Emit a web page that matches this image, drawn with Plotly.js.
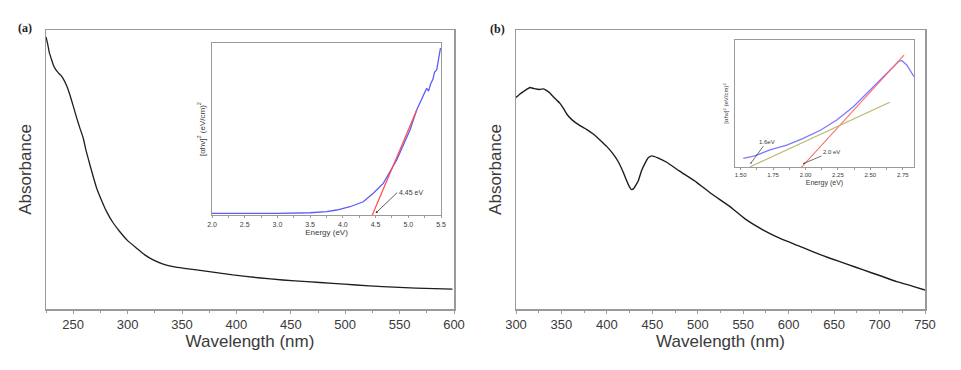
<!DOCTYPE html>
<html>
<head>
<meta charset="utf-8">
<script src="https://cdn.plot.ly/plotly-3.0.1.min.js"></script>
<style>html,body{margin:0;padding:0;background:#fff;}#chart{width:961px;height:370px;}</style>
</head>
<body>
<div id="chart"></div>
<script>
// Panel (a): main absorbance spectrum
const wlA  = [225, 226.5, 228, 230, 231.7, 234, 236, 238.5, 240.9, 244, 247, 250, 253.2, 256, 259.2, 262, 265.4, 268.5, 271.5, 276, 280.7, 286.5, 292.9, 300, 308.3, 315.5, 323.5, 332, 341.9, 352, 363.3, 380, 396.7, 420, 442.6, 465, 488.5, 510, 534.4, 565, 598.6];
const absA = [0.975, 0.95, 0.92, 0.895, 0.875, 0.858, 0.848, 0.838, 0.825, 0.8, 0.767, 0.728, 0.685, 0.65, 0.613, 0.565, 0.516, 0.473, 0.434, 0.39, 0.349, 0.31, 0.277, 0.245, 0.218, 0.195, 0.176, 0.162, 0.152, 0.146, 0.140, 0.131, 0.122, 0.112, 0.104, 0.098, 0.092, 0.086, 0.080, 0.075, 0.071];

// Panel (a) inset: Tauc plot
const eA    = [2.0, 2.5, 3.0, 3.5, 3.75, 3.906, 4.109, 4.312, 4.465, 4.618, 4.823, 5.026, 5.128, 5.281, 5.31, 5.34, 5.378, 5.40, 5.434, 5.492];
const tauA  = [0.009, 0.008, 0.009, 0.013, 0.02, 0.029, 0.048, 0.077, 0.126, 0.184, 0.320, 0.494, 0.610, 0.737, 0.72, 0.76, 0.79, 0.83, 0.843, 0.971];
const fitAx = [4.45, 5.13];
const fitAy = [0.0, 0.61];

// Panel (b): main absorbance spectrum
const wlB  = [300, 304, 308, 312, 315.4, 320, 326.4, 330, 333.8, 337, 341, 345, 348.4, 352, 356, 362, 370, 378, 385, 392, 400, 407, 413, 418, 422, 425, 427.3, 430, 434.6, 438, 441.9, 445.5, 449.3, 456, 465.8, 480, 498.8, 515, 535.4, 552, 572.1, 590, 608.8, 627, 645.5, 664, 682.1, 700, 718.9, 735, 750];
const absB = [0.758, 0.77, 0.779, 0.788, 0.794, 0.79, 0.787, 0.789, 0.783, 0.775, 0.761, 0.748, 0.737, 0.72, 0.698, 0.677, 0.658, 0.643, 0.627, 0.607, 0.582, 0.555, 0.525, 0.49, 0.458, 0.437, 0.428, 0.434, 0.46, 0.495, 0.522, 0.542, 0.549, 0.542, 0.526, 0.494, 0.454, 0.413, 0.367, 0.323, 0.283, 0.254, 0.229, 0.205, 0.182, 0.161, 0.140, 0.12, 0.098, 0.083, 0.068];

// Panel (b) inset: Tauc plot
const eB    = [1.52, 1.56, 1.6, 1.623, 1.726, 1.855, 1.983, 2.118, 2.241, 2.369, 2.498, 2.627, 2.716, 2.742, 2.781, 2.837];
const tauB  = [0.067, 0.075, 0.085, 0.094, 0.134, 0.173, 0.226, 0.291, 0.370, 0.475, 0.606, 0.738, 0.829, 0.839, 0.803, 0.711];
const fitB1x = [1.97, 2.76];
const fitB1y = [0.0, 0.88];
const fitB2x = [1.57, 2.65];
const fitB2y = [0.0, 0.51];

const ticksA = [250, 300, 350, 400, 450, 500, 550, 600];
const ticksB = [300, 350, 400, 450, 500, 550, 600, 650, 700, 750];
const ticksIA = [2.0, 2.5, 3.0, 3.5, 4.0, 4.5, 5.0, 5.5];
const ticksIB = [1.50, 1.75, 2.00, 2.25, 2.50, 2.75];

const W = 961, H = 370;
const px = v => v / W;
const py = v => 1 - v / H;

const frame = '#9a9a9a';
const txt = '#3a3a3a';
const sans = 'Liberation Sans, Arial, sans-serif';

const traces = [
  {x: wlA, y: absA, xaxis: 'x', yaxis: 'y', mode: 'lines', line: {color: '#1e1e1e', width: 1.3, shape: 'spline', smoothing: 0.3}},
  {x: eA, y: tauA, xaxis: 'x2', yaxis: 'y2', mode: 'lines', line: {color: '#5b5bff', width: 1.3}},
  {x: fitAx, y: fitAy, xaxis: 'x2', yaxis: 'y2', mode: 'lines', line: {color: '#ff4a4a', width: 1.2}},
  {x: wlB, y: absB, xaxis: 'x3', yaxis: 'y3', mode: 'lines', line: {color: '#1e1e1e', width: 1.4, shape: 'spline', smoothing: 0.3}},
  {x: eB, y: tauB, xaxis: 'x4', yaxis: 'y4', mode: 'lines', line: {color: '#7a7aff', width: 1.3}},
  {x: fitB1x, y: fitB1y, xaxis: 'x4', yaxis: 'y4', mode: 'lines', line: {color: '#ff6a6a', width: 1.1}},
  {x: fitB2x, y: fitB2y, xaxis: 'x4', yaxis: 'y4', mode: 'lines', line: {color: '#b8b86a', width: 1.1}}
];

function mainX(domain, range, tickvals) {
  return {
    domain: domain, range: range, tickvals: tickvals, ticktext: tickvals.map(String),
    showline: true, mirror: true, linecolor: frame, linewidth: 1.5,
    ticks: 'outside', ticklen: 3, tickcolor: frame, showgrid: false, zeroline: false,
    tickfont: {family: sans, size: 13, color: txt},
    minor: {dtick: 25, ticks: 'outside', ticklen: 2, tickcolor: frame},
    title: {text: 'Wavelength (nm)', font: {family: sans, size: 17, color: txt}, standoff: 4}
  };
}
function mainY(domain, anchor) {
  return {
    domain: domain, range: [0, 1], anchor: anchor,
    showline: true, mirror: true, linecolor: frame, linewidth: 1.5,
    showticklabels: false, ticks: '', showgrid: false, zeroline: false,
    title: {text: 'Absorbance', font: {family: sans, size: 17, color: txt}, standoff: 8}
  };
}
function insetX(domain, range, tickvals, anchor, fs, fmt, minorStep) {
  return {
    domain: domain, range: range, anchor: anchor, tickvals: tickvals, ticktext: tickvals.map(v => v.toFixed(fmt)),
    showline: true, mirror: true, linecolor: frame, linewidth: 1.2,
    ticks: 'outside', ticklen: 2, tickcolor: frame, showgrid: false, zeroline: false,
    tickfont: {family: sans, size: fs, color: txt},
    minor: {dtick: minorStep, ticks: 'outside', ticklen: 1.5, tickcolor: frame},
    title: {text: 'Energy (eV)', font: {family: sans, size: fs + 1, color: txt}, standoff: 2}
  };
}
function insetY(domain, anchor, fs, range) {
  return {
    domain: domain, range: range, anchor: anchor,
    showline: true, mirror: true, linecolor: frame, linewidth: 1.2,
    showticklabels: false, ticks: '', showgrid: false, zeroline: false,
    title: {text: '[αhν]<sup>2</sup> (eV/cm)<sup>2</sup>', font: {family: sans, size: fs, color: txt}, standoff: 4}
  };
}

const layout = {
  width: W, height: H,
  margin: {l: 0, r: 0, t: 0, b: 0},
  paper_bgcolor: '#fff', plot_bgcolor: '#fff',
  showlegend: false,
  xaxis: mainX([px(46), px(454)], [225, 600], ticksA),
  yaxis: mainY([py(309), py(30)], 'x'),
  xaxis2: insetX([px(212), px(441)], [2.0, 5.5], ticksIA, 'y2', 7, 1, 0.25),
  yaxis2: insetY([py(215), py(43)], 'x2', 8, [0, 1]),
  xaxis3: mainX([px(516), px(925)], [300, 750], ticksB),
  yaxis3: mainY([py(309), py(30)], 'x3'),
  xaxis4: insetX([px(735), px(914)], [1.456, 2.837], ticksIB, 'y4', 6, 2, 0.125),
  yaxis4: insetY([py(167), py(40)], 'x4', 6, [0, 1]),
  annotations: [
    {text: '<b>(a)</b>', xref: 'paper', yref: 'paper', x: px(16), y: py(19), showarrow: false,
     font: {family: 'Liberation Serif, Times New Roman, serif', size: 12, color: '#222'}},
    {text: '<b>(b)</b>', xref: 'paper', yref: 'paper', x: px(497), y: py(20), showarrow: false,
     font: {family: 'Liberation Serif, Times New Roman, serif', size: 12, color: '#222'}},
    {text: '4.45 eV', xref: 'x2', yref: 'y2', x: 4.5, y: 0.01, axref: 'x2', ayref: 'y2', ax: 4.83, ay: 0.13,
     showarrow: true, arrowhead: 2, arrowsize: 0.6, arrowwidth: 0.8, arrowcolor: '#333', xanchor: 'left',
     font: {family: sans, size: 7, color: txt}},
    {text: '1.6eV', xref: 'x4', yref: 'y4', x: 1.575, y: 0.025, axref: 'x4', ayref: 'y4', ax: 1.70, ay: 0.2,
     showarrow: true, arrowhead: 2, arrowsize: 0.5, arrowwidth: 0.7, arrowcolor: '#333',
     font: {family: sans, size: 6, color: txt}},
    {text: '2.0 eV', xref: 'x4', yref: 'y4', x: 1.98, y: 0.025, axref: 'x4', ayref: 'y4', ax: 2.2, ay: 0.12,
     showarrow: true, arrowhead: 2, arrowsize: 0.5, arrowwidth: 0.7, arrowcolor: '#333',
     font: {family: sans, size: 6, color: txt}}
  ]
};

Plotly.newPlot('chart', traces, layout, {displayModeBar: false, staticPlot: true});
</script>
</body>
</html>
